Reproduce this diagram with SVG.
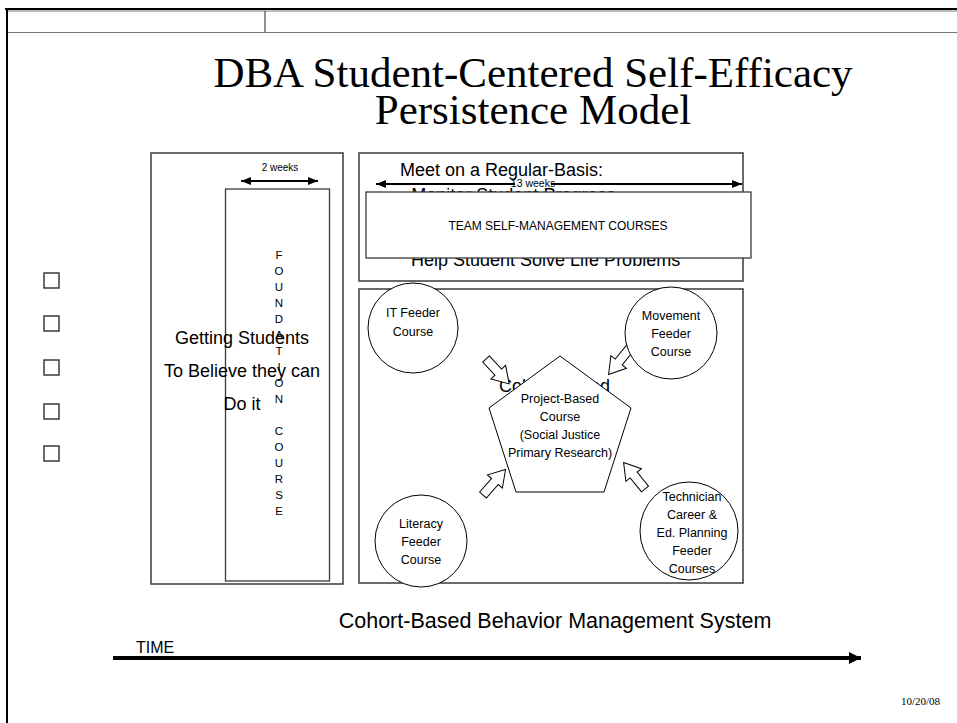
<svg xmlns="http://www.w3.org/2000/svg" width="957" height="723" viewBox="0 0 957 723">
<style>
.t{font-family:"Liberation Sans",Arial,sans-serif;fill:#000}
.ser{font-family:"Liberation Serif","Times New Roman",serif;fill:#000}
.panel{fill:none;stroke:#3a3a3a;stroke-width:1.5}
.box{fill:#fff;stroke:#3a3a3a;stroke-width:1.3}
.node{fill:#fff;stroke:#000;stroke-width:1}
.blk{fill:#fff;stroke:#000;stroke-width:1}
.dim{stroke:#000;stroke-width:2;fill:none}
</style>
<defs>
<marker id="ah" viewBox="0 0 10 8" refX="10" refY="4" markerWidth="10" markerHeight="8" markerUnits="userSpaceOnUse" orient="auto-start-reverse">
<path d="M0,0 L10,4 L0,8 Z" fill="#000"/>
</marker>
<marker id="ahT" viewBox="0 0 12 12" refX="12" refY="6" markerWidth="12" markerHeight="12" markerUnits="userSpaceOnUse" orient="auto">
<path d="M0,0 L12,6 L0,12 Z" fill="#000"/>
</marker>
<path id="barrow" d="M0,-4.5 L18,-4.5 L18,-10 L34,0 L18,10 L18,4.5 L0,4.5 Z"/>
</defs>
<rect width="957" height="723" fill="#fff"/>

<g id="frame">
<line x1="5" y1="9" x2="957" y2="9" stroke="#000" stroke-width="2"/>
<line x1="7" y1="8" x2="7" y2="723" stroke="#000" stroke-width="2"/>
<line x1="8" y1="11" x2="957" y2="11" stroke="#777" stroke-width="1"/>
<line x1="8" y1="32.5" x2="957" y2="32.5" stroke="#777" stroke-width="1"/>
<line x1="265" y1="11" x2="265" y2="32" stroke="#222" stroke-width="1"/>
</g>

<g id="title">
<text class="ser" x="533" y="87" font-size="43" text-anchor="middle">DBA Student-Centered Self-Efficacy</text>
<text class="ser" x="533" y="124" font-size="43" text-anchor="middle">Persistence Model</text>
</g>

<g id="bullets">
<rect class="panel" x="44" y="273" width="15" height="15" stroke-width="1.3"/>
<rect class="panel" x="44" y="316" width="15" height="15" stroke-width="1.3"/>
<rect class="panel" x="44" y="360" width="15" height="15" stroke-width="1.3"/>
<rect class="panel" x="44" y="404" width="15" height="15" stroke-width="1.3"/>
<rect class="panel" x="44" y="446" width="15" height="15" stroke-width="1.3"/>
</g>

<g id="left-panel">
<rect class="panel" x="151" y="153" width="192" height="431"/>
</g>

<g id="foundation-course">
<rect class="box" x="225.5" y="189" width="104" height="392" fill="none"/>
<g class="t" font-size="11.5" text-anchor="middle">
<text x="279" y="259">F</text>
<text x="279" y="275">O</text>
<text x="279" y="291">U</text>
<text x="279" y="307">N</text>
<text x="279" y="323">D</text>
<text x="279" y="339">A</text>
<text x="279" y="355">T</text>
<text x="279" y="371">I</text>
<text x="279" y="387">O</text>
<text x="279" y="403">N</text>
<text x="279" y="435">C</text>
<text x="279" y="451">O</text>
<text x="279" y="467">U</text>
<text x="279" y="483">R</text>
<text x="279" y="499">S</text>
<text x="279" y="515">E</text>
</g>
</g>

<g id="believe-text" class="t" font-size="18" text-anchor="middle">
<text x="242" y="344">Getting Students</text>
<text x="242" y="377">To Believe they can</text>
<text x="242" y="410">Do it</text>
</g>

<g id="two-weeks">
<line class="dim" x1="241" y1="181" x2="318" y2="181" marker-start="url(#ah)" marker-end="url(#ah)"/>
<text class="t" x="280" y="171" font-size="10" text-anchor="middle">2 weeks</text>
</g>

<g id="meet-panel">
<rect class="panel" x="359" y="153" width="384" height="128"/>
<g class="t" font-size="18">
<text x="400" y="176">Meet on a Regular-Basis:</text>
<text x="400" y="201">• Monitor Student Progress</text>
<text x="411" y="266">Help Student Solve Life Problems</text>
</g>
</g>

<g id="thirteen-weeks">
<line class="dim" x1="376" y1="184" x2="515" y2="184" marker-start="url(#ah)"/>
<line class="dim" x1="551" y1="184" x2="742" y2="184" marker-end="url(#ah)"/>
<text class="t" x="533" y="187" font-size="10.5" text-anchor="middle">13 weeks</text>
</g>

<g id="team-courses">
<rect class="box" x="366" y="192" width="385" height="66"/>
<text class="t" x="558" y="230" font-size="12" text-anchor="middle">TEAM SELF-MANAGEMENT COURSES</text>
</g>

<g id="cohort-panel">
<rect class="panel" x="359" y="289" width="384" height="294"/>
<text class="t" x="499" y="392" font-size="18">Cohort-Based</text>
</g>

<g id="connectors">
<use href="#barrow" class="blk" transform="translate(486,359) rotate(47)"/>
<use href="#barrow" class="blk" transform="translate(630,348) rotate(129)"/>
<use href="#barrow" class="blk" transform="translate(483,495) rotate(-48.5)"/>
<use href="#barrow" class="blk" transform="translate(645,489) rotate(-129)"/>
</g>

<g id="it-feeder">
<circle class="node" cx="413" cy="328" r="45"/>
<text class="t" x="413" y="317" font-size="12.5" text-anchor="middle">IT Feeder</text>
<text class="t" x="413" y="336" font-size="12.5" text-anchor="middle">Course</text>
</g>

<g id="movement-feeder">
<circle class="node" cx="671" cy="333" r="46"/>
<text class="t" x="671" y="320" font-size="12.5" text-anchor="middle">Movement</text>
<text class="t" x="671" y="338" font-size="12.5" text-anchor="middle">Feeder</text>
<text class="t" x="671" y="356" font-size="12.5" text-anchor="middle">Course</text>
</g>

<g id="project-based">
<polygon class="node" points="560,356 631,408 604,492 516,492 489,408"/>
<g class="t" font-size="12.5" text-anchor="middle">
<text x="560" y="403">Project-Based</text>
<text x="560" y="421">Course</text>
<text x="560" y="439">(Social Justice</text>
<text x="560" y="457">Primary Research)</text>
</g>
</g>

<g id="literacy-feeder">
<circle class="node" cx="421" cy="541" r="46"/>
<text class="t" x="421" y="528" font-size="12.5" text-anchor="middle">Literacy</text>
<text class="t" x="421" y="546" font-size="12.5" text-anchor="middle">Feeder</text>
<text class="t" x="421" y="564" font-size="12.5" text-anchor="middle">Course</text>
</g>

<g id="technician-feeder">
<circle class="node" cx="689" cy="531" r="49"/>
<g class="t" font-size="12.5" text-anchor="middle">
<text x="692" y="501">Technician</text>
<text x="692" y="519">Career &amp;</text>
<text x="692" y="537">Ed. Planning</text>
<text x="692" y="555">Feeder</text>
<text x="692" y="573">Courses</text>
</g>
</g>

<g id="time-axis">
<text class="t" x="555" y="628" font-size="21.5" text-anchor="middle">Cohort-Based Behavior Management System</text>
<text class="t" x="136" y="653" font-size="16">TIME</text>
<line x1="113" y1="658" x2="861" y2="658" stroke="#000" stroke-width="4" marker-end="url(#ahT)"/>
</g>

<text class="ser" x="901" y="705" font-size="11">10/20/08</text>
</svg>
